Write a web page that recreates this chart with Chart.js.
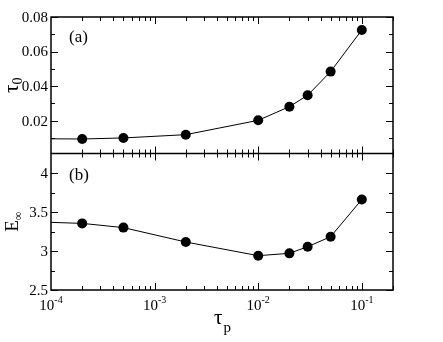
<!DOCTYPE html>
<html>
<head>
<meta charset="utf-8">
<script src="https://cdn.jsdelivr.net/npm/chart.js@4/dist/chart.umd.min.js"></script>
<style>
  html, body { margin: 0; padding: 0; background: #fff; }
  #wrap { width: 443px; height: 342px; position: relative; }
</style>
</head>
<body>
<div id="wrap"><canvas id="c" width="443" height="342"></canvas></div>
<script>
// values
const tauP = [1e-4, 2e-4, 5e-4, 2e-3, 1e-2, 2e-2, 3e-2, 5e-2, 1e-1];
const tau0 = [0.0095, 0.0094, 0.0100, 0.0119, 0.0202, 0.0281, 0.0347, 0.0484, 0.0725];
const eInf = [3.367, 3.354, 3.30, 3.115, 2.94, 2.97, 3.055, 3.183, 3.66];

const xDecades = [1e-4, 1e-3, 1e-2, 1e-1];
const xDecadeExp = ['-4', '-3', '-2', '-1'];
const tauTicks = [0.02, 0.04, 0.06, 0.08];
const tauTickLabels = ['0.02', '0.04', '0.06', '0.08'];
const tauMinor = [0.01, 0.03, 0.05, 0.07];
const eTicks = [2.5, 3, 3.5, 4];
const eTickLabels = ['2.5', '3', '3.5', '4'];
const eMinor = [2.75, 3.25, 3.75];

const SERIF = '"Liberation Serif", "DejaVu Serif", serif';
const MAJ = 7, MIN = 4;

const frame = {
  id: 'frame',
  afterDraw(chart) {
    const ctx = chart.ctx;
    const ca = chart.chartArea;
    const xs = chart.scales.x, yt = chart.scales.yTop, yb = chart.scales.yBot;
    const mid = yt.bottom;
    ctx.save();
    ctx.strokeStyle = '#000';
    ctx.fillStyle = '#000';
    ctx.lineWidth = 1.5;
    ctx.strokeRect(ca.left, ca.top, ca.right - ca.left, ca.bottom - ca.top);
    ctx.beginPath();
    ctx.moveTo(ca.left, mid);
    ctx.lineTo(ca.right, mid);
    ctx.stroke();

    // x ticks (log) on top, middle and bottom
    ctx.lineWidth = 1;
    ctx.beginPath();
    xDecades.forEach(d => {
      for (let m = 1; m <= 9; m++) {
        const v = d * m;
        if (v > xs.max) break;
        const px = Math.round(xs.getPixelForValue(v)) + 0.5;
        if (px <= ca.left + 1) continue;
        const len = m === 1 ? MAJ : MIN;
        ctx.moveTo(px, ca.top); ctx.lineTo(px, ca.top + len);
        ctx.moveTo(px, mid - len); ctx.lineTo(px, mid + len);
        ctx.moveTo(px, ca.bottom); ctx.lineTo(px, ca.bottom - len);
      }
    });
    const yTick = (scale, v, len) => {
      const py = Math.round(scale.getPixelForValue(v)) + 0.5;
      ctx.moveTo(ca.left, py); ctx.lineTo(ca.left + len, py);
      ctx.moveTo(ca.right, py); ctx.lineTo(ca.right - len, py);
    };
    tauTicks.forEach(v => yTick(yt, v, MAJ));
    tauMinor.forEach(v => yTick(yt, v, MIN));
    eTicks.forEach(v => yTick(yb, v, MAJ));
    eMinor.forEach(v => yTick(yb, v, MIN));
    ctx.stroke();

    // y tick labels
    ctx.font = '15px ' + SERIF;
    ctx.textAlign = 'right';
    ctx.textBaseline = 'middle';
    tauTicks.forEach((v, i) => ctx.fillText(tauTickLabels[i], ca.left - 3, yt.getPixelForValue(v) + 1));
    eTicks.forEach((v, i) => ctx.fillText(eTickLabels[i], ca.left - 3, yb.getPixelForValue(v) + 1));

    // x tick labels 10^n
    ctx.textAlign = 'left';
    ctx.textBaseline = 'alphabetic';
    xDecades.forEach((d, i) => {
      const px = xs.getPixelForValue(d);
      ctx.font = '15px ' + SERIF;
      const w1 = ctx.measureText('10').width;
      ctx.font = '10px ' + SERIF;
      const w2 = ctx.measureText(xDecadeExp[i]).width;
      const x0 = px - (w1 + w2) / 2;
      ctx.font = '15px ' + SERIF;
      ctx.fillText('10', x0, ca.bottom + 20);
      ctx.font = '10px ' + SERIF;
      ctx.fillText(xDecadeExp[i], x0 + w1, ca.bottom + 13);
    });

    // x axis title tau_p
    ctx.font = '21px ' + SERIF;
    const wt = ctx.measureText('\u03c4').width;
    ctx.fillText('\u03c4', 214, 324);
    ctx.font = '15px ' + SERIF;
    ctx.fillText('p', 214 + wt + 1, 332);

    // panel labels
    ctx.font = '17px ' + SERIF;
    ctx.fillText('(a)', ca.left + 18, ca.top + 25);
    ctx.fillText('(b)', ca.left + 18, mid + 26);

    // y axis titles (rotated)
    const yTitle = (main, sub, cy, mainFont, subFont) => {
      ctx.save();
      ctx.translate(18, cy);
      ctx.rotate(-Math.PI / 2);
      ctx.font = mainFont;
      const w1 = ctx.measureText(main).width;
      ctx.font = subFont;
      const w2 = ctx.measureText(sub).width;
      const x0 = -(w1 + w2) / 2;
      ctx.font = mainFont;
      ctx.fillText(main, x0, 0);
      ctx.font = subFont;
      ctx.fillText(sub, x0 + w1, 4);
      ctx.restore();
    };
    yTitle('\u03c4', '0', (ca.top + mid) / 2, '21px ' + SERIF, '14px ' + SERIF);
    yTitle('E', '\u221e', (mid + ca.bottom) / 2, '19px ' + SERIF, '12px ' + SERIF);
    ctx.restore();
  }
};

const fixW = w => s => { s.width = w; };
const fixH = h => s => { s.height = h; };

new Chart(document.getElementById('c'), {
  type: 'line',
  data: {
    labels: tauP,
    datasets: [
      {
        label: 'tau0',
        data: tauP.map((x, i) => ({ x, y: tau0[i] })),
        xAxisID: 'x', yAxisID: 'yTop',
        borderColor: '#000', backgroundColor: '#000',
        borderWidth: 1, tension: 0,
        pointRadius: c => c.dataIndex === 0 ? 0 : 5,
        pointBorderWidth: 0,
      },
      {
        label: 'Einf',
        data: tauP.map((x, i) => ({ x, y: eInf[i] })),
        xAxisID: 'x', yAxisID: 'yBot',
        borderColor: '#000', backgroundColor: '#000',
        borderWidth: 1, tension: 0,
        pointRadius: c => c.dataIndex === 0 ? 0 : 5,
        pointBorderWidth: 0,
      },
    ],
  },
  options: {
    responsive: false,
    animation: false,
    events: [],
    layout: { padding: { top: 17, right: 50, left: 0, bottom: 0 } },
    plugins: { legend: { display: false }, tooltip: { enabled: false } },
    scales: {
      x: {
        type: 'logarithmic', min: 1e-4, max: 0.2, position: 'bottom',
        grid: { display: false }, border: { display: false },
        ticks: { display: false }, afterFit: fixH(52),
      },
      // stacked panels: the first listed sits at the bottom
      yBot: {
        type: 'linear', min: 2.5, max: 4.25, position: 'left',
        stack: 'panels', stackWeight: 1, offset: false,
        grid: { display: false }, border: { display: false },
        ticks: { display: false }, afterFit: fixW(51),
      },
      yTop: {
        type: 'linear', min: 0.001, max: 0.08, position: 'left',
        stack: 'panels', stackWeight: 1, offset: false,
        grid: { display: false }, border: { display: false },
        ticks: { display: false }, afterFit: fixW(51),
      },
    },
  },
  plugins: [frame],
});
</script>
</body>
</html>
